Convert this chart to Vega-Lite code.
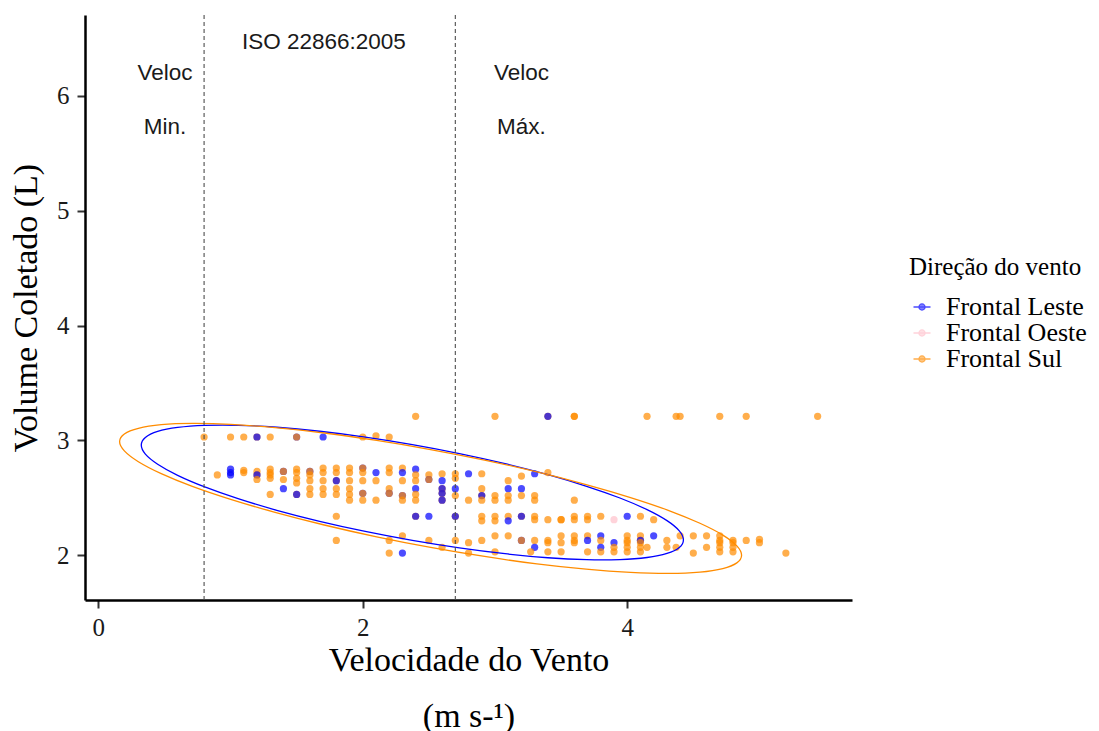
{
  "$schema": "https://vega.github.io/schema/vega-lite/v6.json",
  "width": 767,
  "height": 585,
  "autosize": {"type": "none"},
  "padding": {"left": 85, "top": 15, "right": 247, "bottom": 131},
  "background": "white",
  "config": {
    "view": {"stroke": null},
    "axis": {"grid": false}
  },
  "datasets": {
    "points": [
      {"v":0.8,"vol":3.03,"dir":"Frontal Sul"},
      {"v":0.9,"vol":2.70,"dir":"Frontal Sul"},
      {"v":1.0,"vol":3.03,"dir":"Frontal Sul"},
      {"v":1.0,"vol":2.75,"dir":"Frontal Leste"},
      {"v":1.0,"vol":2.72,"dir":"Frontal Leste"},
      {"v":1.0,"vol":2.70,"dir":"Frontal Leste"},
      {"v":1.1,"vol":3.03,"dir":"Frontal Sul"},
      {"v":1.1,"vol":2.74,"dir":"Frontal Sul"},
      {"v":1.1,"vol":2.72,"dir":"Frontal Sul"},
      {"v":1.2,"vol":3.03,"dir":"Frontal Sul"},
      {"v":1.2,"vol":3.03,"dir":"Frontal Leste"},
      {"v":1.2,"vol":2.73,"dir":"Frontal Sul"},
      {"v":1.2,"vol":2.70,"dir":"Frontal Sul"},
      {"v":1.2,"vol":2.70,"dir":"Frontal Leste"},
      {"v":1.2,"vol":2.66,"dir":"Frontal Sul"},
      {"v":1.3,"vol":3.03,"dir":"Frontal Sul"},
      {"v":1.3,"vol":2.75,"dir":"Frontal Sul"},
      {"v":1.3,"vol":2.72,"dir":"Frontal Sul"},
      {"v":1.3,"vol":2.70,"dir":"Frontal Sul"},
      {"v":1.3,"vol":2.67,"dir":"Frontal Sul"},
      {"v":1.3,"vol":2.53,"dir":"Frontal Sul"},
      {"v":1.4,"vol":2.73,"dir":"Frontal Leste"},
      {"v":1.4,"vol":2.73,"dir":"Frontal Sul"},
      {"v":1.4,"vol":2.66,"dir":"Frontal Sul"},
      {"v":1.4,"vol":2.58,"dir":"Frontal Leste"},
      {"v":1.5,"vol":3.03,"dir":"Frontal Leste"},
      {"v":1.5,"vol":3.03,"dir":"Frontal Sul"},
      {"v":1.5,"vol":2.75,"dir":"Frontal Sul"},
      {"v":1.5,"vol":2.72,"dir":"Frontal Sul"},
      {"v":1.5,"vol":2.67,"dir":"Frontal Sul"},
      {"v":1.5,"vol":2.63,"dir":"Frontal Sul"},
      {"v":1.5,"vol":2.53,"dir":"Frontal Sul"},
      {"v":1.5,"vol":2.53,"dir":"Frontal Leste"},
      {"v":1.6,"vol":2.73,"dir":"Frontal Leste"},
      {"v":1.6,"vol":2.73,"dir":"Frontal Sul"},
      {"v":1.6,"vol":2.70,"dir":"Frontal Sul"},
      {"v":1.6,"vol":2.65,"dir":"Frontal Sul"},
      {"v":1.6,"vol":2.58,"dir":"Frontal Sul"},
      {"v":1.6,"vol":2.53,"dir":"Frontal Sul"},
      {"v":1.7,"vol":3.03,"dir":"Frontal Leste"},
      {"v":1.7,"vol":2.76,"dir":"Frontal Sul"},
      {"v":1.7,"vol":2.72,"dir":"Frontal Sul"},
      {"v":1.7,"vol":2.65,"dir":"Frontal Sul"},
      {"v":1.7,"vol":2.58,"dir":"Frontal Sul"},
      {"v":1.7,"vol":2.53,"dir":"Frontal Sul"},
      {"v":1.8,"vol":2.76,"dir":"Frontal Sul"},
      {"v":1.8,"vol":2.72,"dir":"Frontal Sul"},
      {"v":1.8,"vol":2.65,"dir":"Frontal Sul"},
      {"v":1.8,"vol":2.65,"dir":"Frontal Leste"},
      {"v":1.8,"vol":2.58,"dir":"Frontal Sul"},
      {"v":1.8,"vol":2.53,"dir":"Frontal Sul"},
      {"v":1.8,"vol":2.34,"dir":"Frontal Sul"},
      {"v":1.8,"vol":2.13,"dir":"Frontal Sul"},
      {"v":1.9,"vol":2.76,"dir":"Frontal Sul"},
      {"v":1.9,"vol":2.72,"dir":"Frontal Sul"},
      {"v":1.9,"vol":2.65,"dir":"Frontal Sul"},
      {"v":1.9,"vol":2.58,"dir":"Frontal Sul"},
      {"v":1.9,"vol":2.53,"dir":"Frontal Sul"},
      {"v":1.9,"vol":2.48,"dir":"Frontal Sul"},
      {"v":2.0,"vol":3.03,"dir":"Frontal Sul"},
      {"v":2.0,"vol":2.76,"dir":"Frontal Leste"},
      {"v":2.0,"vol":2.76,"dir":"Frontal Sul"},
      {"v":2.0,"vol":2.72,"dir":"Frontal Sul"},
      {"v":2.0,"vol":2.65,"dir":"Frontal Sul"},
      {"v":2.0,"vol":2.54,"dir":"Frontal Leste"},
      {"v":2.0,"vol":2.54,"dir":"Frontal Sul"},
      {"v":2.0,"vol":2.48,"dir":"Frontal Sul"},
      {"v":2.1,"vol":3.04,"dir":"Frontal Sul"},
      {"v":2.1,"vol":2.72,"dir":"Frontal Leste"},
      {"v":2.1,"vol":2.65,"dir":"Frontal Sul"},
      {"v":2.1,"vol":2.48,"dir":"Frontal Sul"},
      {"v":2.2,"vol":3.03,"dir":"Frontal Sul"},
      {"v":2.2,"vol":2.76,"dir":"Frontal Sul"},
      {"v":2.2,"vol":2.72,"dir":"Frontal Sul"},
      {"v":2.2,"vol":2.58,"dir":"Frontal Sul"},
      {"v":2.2,"vol":2.54,"dir":"Frontal Leste"},
      {"v":2.2,"vol":2.54,"dir":"Frontal Sul"},
      {"v":2.2,"vol":2.13,"dir":"Frontal Sul"},
      {"v":2.2,"vol":2.02,"dir":"Frontal Sul"},
      {"v":2.3,"vol":2.76,"dir":"Frontal Sul"},
      {"v":2.3,"vol":2.72,"dir":"Frontal Leste"},
      {"v":2.3,"vol":2.65,"dir":"Frontal Sul"},
      {"v":2.3,"vol":2.52,"dir":"Frontal Leste"},
      {"v":2.3,"vol":2.52,"dir":"Frontal Sul"},
      {"v":2.3,"vol":2.48,"dir":"Frontal Sul"},
      {"v":2.3,"vol":2.17,"dir":"Frontal Sul"},
      {"v":2.3,"vol":2.02,"dir":"Frontal Leste"},
      {"v":2.4,"vol":3.21,"dir":"Frontal Sul"},
      {"v":2.4,"vol":2.75,"dir":"Frontal Leste"},
      {"v":2.4,"vol":2.70,"dir":"Frontal Sul"},
      {"v":2.4,"vol":2.65,"dir":"Frontal Sul"},
      {"v":2.4,"vol":2.58,"dir":"Frontal Leste"},
      {"v":2.4,"vol":2.53,"dir":"Frontal Sul"},
      {"v":2.4,"vol":2.48,"dir":"Frontal Sul"},
      {"v":2.4,"vol":2.34,"dir":"Frontal Sul"},
      {"v":2.4,"vol":2.34,"dir":"Frontal Leste"},
      {"v":2.5,"vol":2.70,"dir":"Frontal Sul"},
      {"v":2.5,"vol":2.66,"dir":"Frontal Leste"},
      {"v":2.5,"vol":2.66,"dir":"Frontal Sul"},
      {"v":2.5,"vol":2.34,"dir":"Frontal Leste"},
      {"v":2.5,"vol":2.13,"dir":"Frontal Sul"},
      {"v":2.6,"vol":2.71,"dir":"Frontal Sul"},
      {"v":2.6,"vol":2.65,"dir":"Frontal Leste"},
      {"v":2.6,"vol":2.58,"dir":"Frontal Sul"},
      {"v":2.6,"vol":2.58,"dir":"Frontal Leste"},
      {"v":2.6,"vol":2.54,"dir":"Frontal Sul"},
      {"v":2.6,"vol":2.54,"dir":"Frontal Leste"},
      {"v":2.6,"vol":2.48,"dir":"Frontal Sul"},
      {"v":2.6,"vol":2.48,"dir":"Frontal Leste"},
      {"v":2.6,"vol":2.07,"dir":"Frontal Sul"},
      {"v":2.7,"vol":2.71,"dir":"Frontal Sul"},
      {"v":2.7,"vol":2.67,"dir":"Frontal Sul"},
      {"v":2.7,"vol":2.58,"dir":"Frontal Leste"},
      {"v":2.7,"vol":2.52,"dir":"Frontal Sul"},
      {"v":2.7,"vol":2.34,"dir":"Frontal Sul"},
      {"v":2.7,"vol":2.34,"dir":"Frontal Leste"},
      {"v":2.7,"vol":2.13,"dir":"Frontal Sul"},
      {"v":2.8,"vol":2.71,"dir":"Frontal Leste"},
      {"v":2.8,"vol":2.48,"dir":"Frontal Sul"},
      {"v":2.8,"vol":2.11,"dir":"Frontal Sul"},
      {"v":2.8,"vol":2.02,"dir":"Frontal Sul"},
      {"v":2.9,"vol":2.71,"dir":"Frontal Sul"},
      {"v":2.9,"vol":2.58,"dir":"Frontal Sul"},
      {"v":2.9,"vol":2.52,"dir":"Frontal Sul"},
      {"v":2.9,"vol":2.52,"dir":"Frontal Leste"},
      {"v":2.9,"vol":2.48,"dir":"Frontal Sul"},
      {"v":2.9,"vol":2.34,"dir":"Frontal Sul"},
      {"v":2.9,"vol":2.30,"dir":"Frontal Sul"},
      {"v":2.9,"vol":2.13,"dir":"Frontal Sul"},
      {"v":3.0,"vol":3.21,"dir":"Frontal Sul"},
      {"v":3.0,"vol":2.52,"dir":"Frontal Sul"},
      {"v":3.0,"vol":2.48,"dir":"Frontal Sul"},
      {"v":3.0,"vol":2.34,"dir":"Frontal Sul"},
      {"v":3.0,"vol":2.30,"dir":"Frontal Sul"},
      {"v":3.0,"vol":2.17,"dir":"Frontal Sul"},
      {"v":3.0,"vol":2.03,"dir":"Frontal Sul"},
      {"v":3.1,"vol":2.65,"dir":"Frontal Sul"},
      {"v":3.1,"vol":2.58,"dir":"Frontal Leste"},
      {"v":3.1,"vol":2.52,"dir":"Frontal Sul"},
      {"v":3.1,"vol":2.48,"dir":"Frontal Sul"},
      {"v":3.1,"vol":2.34,"dir":"Frontal Sul"},
      {"v":3.1,"vol":2.30,"dir":"Frontal Leste"},
      {"v":3.1,"vol":2.17,"dir":"Frontal Sul"},
      {"v":3.2,"vol":2.69,"dir":"Frontal Sul"},
      {"v":3.2,"vol":2.58,"dir":"Frontal Leste"},
      {"v":3.2,"vol":2.52,"dir":"Frontal Sul"},
      {"v":3.2,"vol":2.34,"dir":"Frontal Sul"},
      {"v":3.2,"vol":2.34,"dir":"Frontal Leste"},
      {"v":3.2,"vol":2.13,"dir":"Frontal Leste"},
      {"v":3.2,"vol":2.13,"dir":"Frontal Sul"},
      {"v":3.3,"vol":2.71,"dir":"Frontal Leste"},
      {"v":3.3,"vol":2.52,"dir":"Frontal Sul"},
      {"v":3.3,"vol":2.48,"dir":"Frontal Sul"},
      {"v":3.3,"vol":2.34,"dir":"Frontal Sul"},
      {"v":3.3,"vol":2.31,"dir":"Frontal Sul"},
      {"v":3.3,"vol":2.13,"dir":"Frontal Sul"},
      {"v":3.3,"vol":2.07,"dir":"Frontal Leste"},
      {"v":3.27,"vol":2.03,"dir":"Frontal Sul"},
      {"v":3.4,"vol":3.21,"dir":"Frontal Sul"},
      {"v":3.4,"vol":3.21,"dir":"Frontal Leste"},
      {"v":3.4,"vol":2.72,"dir":"Frontal Sul"},
      {"v":3.4,"vol":2.31,"dir":"Frontal Sul"},
      {"v":3.4,"vol":2.13,"dir":"Frontal Sul"},
      {"v":3.4,"vol":2.11,"dir":"Frontal Sul"},
      {"v":3.4,"vol":2.03,"dir":"Frontal Sul"},
      {"v":3.5,"vol":2.31,"dir":"Frontal Sul"},
      {"v":3.5,"vol":2.31,"dir":"Frontal Sul"},
      {"v":3.5,"vol":2.17,"dir":"Frontal Sul"},
      {"v":3.5,"vol":2.11,"dir":"Frontal Sul"},
      {"v":3.5,"vol":2.03,"dir":"Frontal Sul"},
      {"v":3.6,"vol":3.21,"dir":"Frontal Sul"},
      {"v":3.6,"vol":3.21,"dir":"Frontal Sul"},
      {"v":3.6,"vol":2.48,"dir":"Frontal Sul"},
      {"v":3.6,"vol":2.34,"dir":"Frontal Sul"},
      {"v":3.6,"vol":2.31,"dir":"Frontal Sul"},
      {"v":3.6,"vol":2.17,"dir":"Frontal Sul"},
      {"v":3.6,"vol":2.13,"dir":"Frontal Sul"},
      {"v":3.6,"vol":2.11,"dir":"Frontal Sul"},
      {"v":3.7,"vol":2.34,"dir":"Frontal Sul"},
      {"v":3.7,"vol":2.31,"dir":"Frontal Sul"},
      {"v":3.7,"vol":2.17,"dir":"Frontal Sul"},
      {"v":3.7,"vol":2.13,"dir":"Frontal Leste"},
      {"v":3.7,"vol":2.03,"dir":"Frontal Sul"},
      {"v":3.8,"vol":2.34,"dir":"Frontal Sul"},
      {"v":3.8,"vol":2.17,"dir":"Frontal Leste"},
      {"v":3.8,"vol":2.13,"dir":"Frontal Sul"},
      {"v":3.8,"vol":2.07,"dir":"Frontal Leste"},
      {"v":3.8,"vol":2.03,"dir":"Frontal Sul"},
      {"v":3.9,"vol":2.31,"dir":"Frontal Oeste"},
      {"v":3.9,"vol":2.11,"dir":"Frontal Leste"},
      {"v":3.9,"vol":2.07,"dir":"Frontal Sul"},
      {"v":3.9,"vol":2.03,"dir":"Frontal Sul"},
      {"v":4.0,"vol":2.34,"dir":"Frontal Leste"},
      {"v":4.0,"vol":2.17,"dir":"Frontal Sul"},
      {"v":4.0,"vol":2.13,"dir":"Frontal Sul"},
      {"v":4.0,"vol":2.11,"dir":"Frontal Sul"},
      {"v":4.0,"vol":2.07,"dir":"Frontal Sul"},
      {"v":4.0,"vol":2.03,"dir":"Frontal Sul"},
      {"v":4.1,"vol":2.34,"dir":"Frontal Sul"},
      {"v":4.1,"vol":2.17,"dir":"Frontal Sul"},
      {"v":4.1,"vol":2.13,"dir":"Frontal Sul"},
      {"v":4.1,"vol":2.13,"dir":"Frontal Leste"},
      {"v":4.1,"vol":2.11,"dir":"Frontal Sul"},
      {"v":4.1,"vol":2.07,"dir":"Frontal Sul"},
      {"v":4.1,"vol":2.03,"dir":"Frontal Sul"},
      {"v":4.15,"vol":3.21,"dir":"Frontal Sul"},
      {"v":4.15,"vol":2.07,"dir":"Frontal Sul"},
      {"v":4.2,"vol":2.31,"dir":"Frontal Sul"},
      {"v":4.2,"vol":2.17,"dir":"Frontal Leste"},
      {"v":4.3,"vol":2.13,"dir":"Frontal Sul"},
      {"v":4.3,"vol":2.07,"dir":"Frontal Sul"},
      {"v":4.37,"vol":3.21,"dir":"Frontal Sul"},
      {"v":4.4,"vol":3.21,"dir":"Frontal Sul"},
      {"v":4.4,"vol":2.17,"dir":"Frontal Sul"},
      {"v":4.37,"vol":2.07,"dir":"Frontal Sul"},
      {"v":4.5,"vol":2.17,"dir":"Frontal Sul"},
      {"v":4.5,"vol":2.02,"dir":"Frontal Sul"},
      {"v":4.6,"vol":2.17,"dir":"Frontal Sul"},
      {"v":4.6,"vol":2.07,"dir":"Frontal Sul"},
      {"v":4.7,"vol":3.21,"dir":"Frontal Sul"},
      {"v":4.7,"vol":2.17,"dir":"Frontal Sul"},
      {"v":4.7,"vol":2.13,"dir":"Frontal Sul"},
      {"v":4.7,"vol":2.11,"dir":"Frontal Sul"},
      {"v":4.7,"vol":2.07,"dir":"Frontal Sul"},
      {"v":4.7,"vol":2.03,"dir":"Frontal Sul"},
      {"v":4.8,"vol":2.13,"dir":"Frontal Sul"},
      {"v":4.8,"vol":2.11,"dir":"Frontal Sul"},
      {"v":4.8,"vol":2.07,"dir":"Frontal Sul"},
      {"v":4.8,"vol":2.03,"dir":"Frontal Sul"},
      {"v":4.9,"vol":3.21,"dir":"Frontal Sul"},
      {"v":4.9,"vol":2.13,"dir":"Frontal Sul"},
      {"v":5.0,"vol":2.14,"dir":"Frontal Sul"},
      {"v":5.0,"vol":2.11,"dir":"Frontal Sul"},
      {"v":5.2,"vol":2.02,"dir":"Frontal Sul"},
      {"v":5.44,"vol":3.21,"dir":"Frontal Sul"}
    ],
    "ellipses": [
      {"dir":"Frontal Leste","t":0,"v":4.425,"vol":2.134},
      {"dir":"Frontal Leste","t":10,"v":4.394,"vol":2.213},
      {"dir":"Frontal Leste","t":20,"v":4.301,"vol":2.302},
      {"dir":"Frontal Leste","t":30,"v":4.150,"vol":2.398},
      {"dir":"Frontal Leste","t":40,"v":3.945,"vol":2.499},
      {"dir":"Frontal Leste","t":50,"v":3.693,"vol":2.601},
      {"dir":"Frontal Leste","t":60,"v":3.400,"vol":2.702},
      {"dir":"Frontal Leste","t":70,"v":3.076,"vol":2.798},
      {"dir":"Frontal Leste","t":80,"v":2.731,"vol":2.886},
      {"dir":"Frontal Leste","t":90,"v":2.375,"vol":2.964},
      {"dir":"Frontal Leste","t":100,"v":2.019,"vol":3.029},
      {"dir":"Frontal Leste","t":110,"v":1.674,"vol":3.080},
      {"dir":"Frontal Leste","t":120,"v":1.350,"vol":3.115},
      {"dir":"Frontal Leste","t":130,"v":1.057,"vol":3.132},
      {"dir":"Frontal Leste","t":140,"v":0.805,"vol":3.131},
      {"dir":"Frontal Leste","t":150,"v":0.600,"vol":3.113},
      {"dir":"Frontal Leste","t":160,"v":0.449,"vol":3.078},
      {"dir":"Frontal Leste","t":170,"v":0.356,"vol":3.026},
      {"dir":"Frontal Leste","t":180,"v":0.325,"vol":2.960},
      {"dir":"Frontal Leste","t":190,"v":0.356,"vol":2.881},
      {"dir":"Frontal Leste","t":200,"v":0.449,"vol":2.793},
      {"dir":"Frontal Leste","t":210,"v":0.600,"vol":2.696},
      {"dir":"Frontal Leste","t":220,"v":0.805,"vol":2.595},
      {"dir":"Frontal Leste","t":230,"v":1.057,"vol":2.493},
      {"dir":"Frontal Leste","t":240,"v":1.350,"vol":2.392},
      {"dir":"Frontal Leste","t":250,"v":1.674,"vol":2.296},
      {"dir":"Frontal Leste","t":260,"v":2.019,"vol":2.208},
      {"dir":"Frontal Leste","t":270,"v":2.375,"vol":2.130},
      {"dir":"Frontal Leste","t":280,"v":2.731,"vol":2.065},
      {"dir":"Frontal Leste","t":290,"v":3.076,"vol":2.014},
      {"dir":"Frontal Leste","t":300,"v":3.400,"vol":1.979},
      {"dir":"Frontal Leste","t":310,"v":3.693,"vol":1.962},
      {"dir":"Frontal Leste","t":320,"v":3.945,"vol":1.963},
      {"dir":"Frontal Leste","t":330,"v":4.150,"vol":1.981},
      {"dir":"Frontal Leste","t":340,"v":4.301,"vol":2.016},
      {"dir":"Frontal Leste","t":350,"v":4.394,"vol":2.068},
      {"dir":"Frontal Sul","t":0,"v":4.865,"vol":2.000},
      {"dir":"Frontal Sul","t":10,"v":4.829,"vol":2.082},
      {"dir":"Frontal Sul","t":20,"v":4.723,"vol":2.176},
      {"dir":"Frontal Sul","t":30,"v":4.550,"vol":2.279},
      {"dir":"Frontal Sul","t":40,"v":4.315,"vol":2.390},
      {"dir":"Frontal Sul","t":50,"v":4.025,"vol":2.503},
      {"dir":"Frontal Sul","t":60,"v":3.689,"vol":2.616},
      {"dir":"Frontal Sul","t":70,"v":3.317,"vol":2.726},
      {"dir":"Frontal Sul","t":80,"v":2.921,"vol":2.829},
      {"dir":"Frontal Sul","t":90,"v":2.513,"vol":2.921},
      {"dir":"Frontal Sul","t":100,"v":2.105,"vol":3.000},
      {"dir":"Frontal Sul","t":110,"v":1.709,"vol":3.065},
      {"dir":"Frontal Sul","t":120,"v":1.337,"vol":3.111},
      {"dir":"Frontal Sul","t":130,"v":1.001,"vol":3.140},
      {"dir":"Frontal Sul","t":140,"v":0.711,"vol":3.148},
      {"dir":"Frontal Sul","t":150,"v":0.476,"vol":3.137},
      {"dir":"Frontal Sul","t":160,"v":0.303,"vol":3.106},
      {"dir":"Frontal Sul","t":170,"v":0.197,"vol":3.057},
      {"dir":"Frontal Sul","t":180,"v":0.161,"vol":2.990},
      {"dir":"Frontal Sul","t":190,"v":0.197,"vol":2.909},
      {"dir":"Frontal Sul","t":200,"v":0.303,"vol":2.815},
      {"dir":"Frontal Sul","t":210,"v":0.476,"vol":2.711},
      {"dir":"Frontal Sul","t":220,"v":0.711,"vol":2.600},
      {"dir":"Frontal Sul","t":230,"v":1.001,"vol":2.487},
      {"dir":"Frontal Sul","t":240,"v":1.337,"vol":2.374},
      {"dir":"Frontal Sul","t":250,"v":1.709,"vol":2.264},
      {"dir":"Frontal Sul","t":260,"v":2.105,"vol":2.161},
      {"dir":"Frontal Sul","t":270,"v":2.513,"vol":2.069},
      {"dir":"Frontal Sul","t":280,"v":2.921,"vol":1.990},
      {"dir":"Frontal Sul","t":290,"v":3.317,"vol":1.925},
      {"dir":"Frontal Sul","t":300,"v":3.689,"vol":1.879},
      {"dir":"Frontal Sul","t":310,"v":4.025,"vol":1.851},
      {"dir":"Frontal Sul","t":320,"v":4.315,"vol":1.842},
      {"dir":"Frontal Sul","t":330,"v":4.550,"vol":1.853},
      {"dir":"Frontal Sul","t":340,"v":4.723,"vol":1.884},
      {"dir":"Frontal Sul","t":350,"v":4.829,"vol":1.934}
    ],
    "limits": [{"v":0.8},{"v":2.7}],
    "notes": [
      {"v":0.505,"vol":6.2,"label":"Veloc"},
      {"v":0.505,"vol":5.73,"label":"Min."},
      {"v":1.706,"vol":6.47,"label":"ISO 22866:2005"},
      {"v":3.2,"vol":6.2,"label":"Veloc"},
      {"v":3.2,"vol":5.73,"label":"Máx."}
    ]
  },
  "layer": [
    {
      "data": {"name": "points"},
      "mark": {"type": "point", "filled": true, "size": 52, "opacity": 0.7, "strokeWidth": 0},
      "encoding": {
        "x": {
          "field": "v", "type": "quantitative",
          "scale": {"domain": [-0.1006, 5.70], "nice": false, "zero": false},
          "axis": {
            "values": [0, 2, 4], "format": "d",
            "title": ["Velocidade do Vento", "(m s-¹)"],
            "titleFont": "Liberation Serif", "titleFontSize": 34, "titleFontWeight": "normal",
            "titleColor": "black", "titleLineHeight": 56, "titlePadding": 3,
            "labelFont": "Liberation Serif", "labelFontSize": 25, "labelColor": "#1a1a1a",
            "labelPadding": 7,
            "tickColor": "#333333", "tickWidth": 2, "tickSize": 8,
            "domainColor": "black", "domainWidth": 2.5
          }
        },
        "y": {
          "field": "vol", "type": "quantitative",
          "scale": {"domain": [1.611, 6.704], "nice": false, "zero": false},
          "axis": {
            "values": [2, 3, 4, 5, 6], "format": "d",
            "title": "Volume Coletado (L)",
            "titleFont": "Liberation Serif", "titleFontSize": 34, "titleFontWeight": "normal",
            "titleColor": "black", "titlePadding": 13,
            "labelFont": "Liberation Serif", "labelFontSize": 25, "labelColor": "#1a1a1a",
            "labelPadding": 8,
            "tickColor": "#333333", "tickWidth": 2, "tickSize": 8,
            "domainColor": "black", "domainWidth": 2.5
          }
        },
        "color": {
          "field": "dir", "type": "nominal",
          "scale": {
            "domain": ["Frontal Leste", "Frontal Oeste", "Frontal Sul"],
            "range": ["#0000FF", "#FFC0CB", "#FF8C00"]
          },
          "legend": {
            "title": "Direção do vento",
            "orient": "none", "legendX": 824, "legendY": 240,
            "titleFont": "Liberation Serif", "titleFontSize": 25, "titleFontWeight": "normal",
            "titleColor": "black", "titlePadding": 14,
            "labelFont": "Liberation Serif", "labelFontSize": 26, "labelColor": "black",
            "labelOffset": 11,
            "symbolType": "M-1,0L1,0M-0.36,0A0.36,0.36,0,1,1,0.36,0A0.36,0.36,0,1,1,-0.36,0Z",
            "symbolSize": 289, "symbolStrokeWidth": 1.3, "symbolOpacity": 0.8,
            "rowPadding": -12
          }
        },
        "stroke": {
          "field": "dir", "type": "nominal",
          "scale": {
            "domain": ["Frontal Leste", "Frontal Oeste", "Frontal Sul"],
            "range": ["#0000FF", "#FFC0CB", "#FF8C00"]
          }
        }
      }
    },
    {
      "data": {"name": "ellipses"},
      "mark": {"type": "line", "strokeWidth": 1.3, "interpolate": "cardinal-closed"},
      "encoding": {
        "x": {"field": "v", "type": "quantitative"},
        "y": {"field": "vol", "type": "quantitative"},
        "stroke": {"field": "dir", "type": "nominal"},
        "order": {"field": "t", "type": "quantitative"}
      }
    },
    {
      "data": {"name": "limits"},
      "mark": {"type": "rule", "color": "#4d4d4d", "strokeWidth": 1.1, "strokeDash": [4, 3]},
      "encoding": {
        "x": {"field": "v", "type": "quantitative"}
      }
    },
    {
      "data": {"name": "notes"},
      "mark": {"type": "text", "font": "Liberation Sans", "fontSize": 22.5, "color": "#1a1a1a", "align": "center", "baseline": "middle"},
      "encoding": {
        "x": {"field": "v", "type": "quantitative"},
        "y": {"field": "vol", "type": "quantitative"},
        "text": {"field": "label"}
      }
    }
  ]
}
